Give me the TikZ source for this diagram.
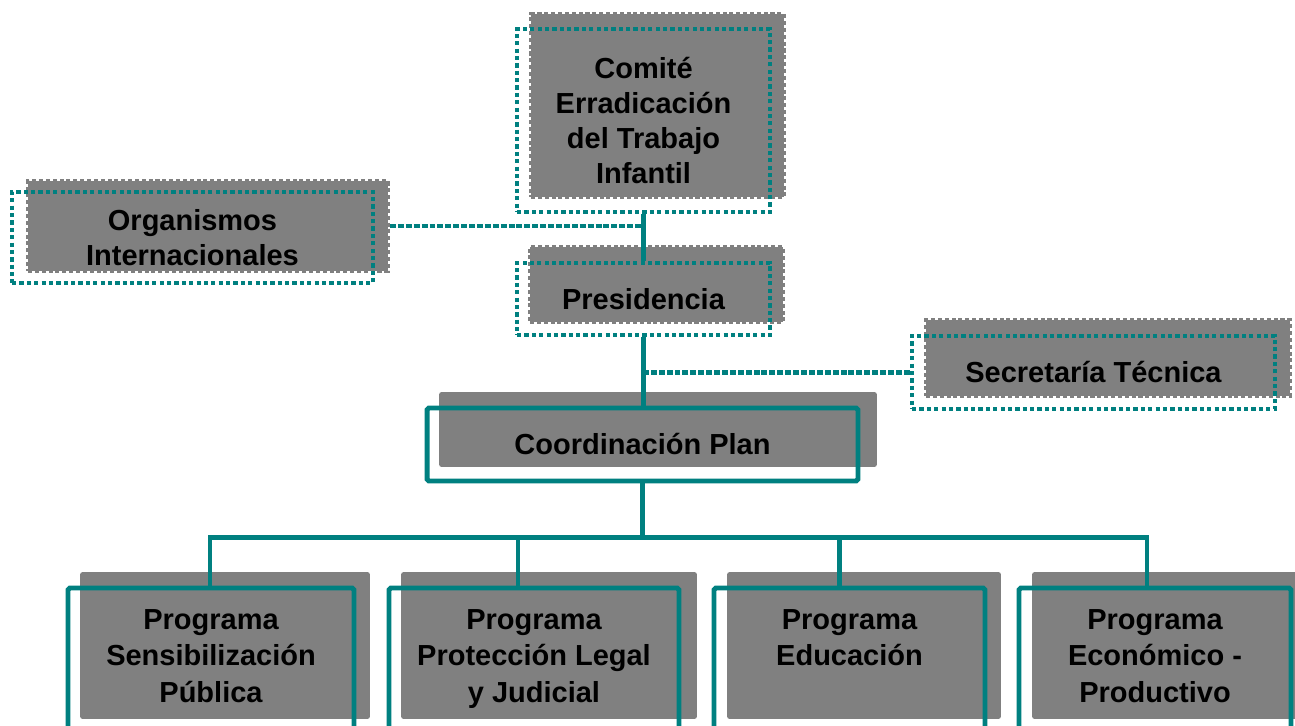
\documentclass[tikz,border=0pt]{standalone}
\usepackage{fontspec}
\setmainfont{Liberation Sans}
\usepackage{tikz}
\usetikzlibrary{calc}
\definecolor{verde}{RGB}{0,128,128}
\definecolor{gris}{RGB}{128,128,128}
\tikzset{
	fondo/.style={fill=gris, draw=gris, line width=2.3pt, dash pattern=on 2.3pt off 1.6pt, inner sep=0pt},
	fondoliso/.style={fill=gris, rounded corners=1.5pt, inner sep=0pt},
	punteado/.style={draw=verde, line width=2.6pt, dash pattern=on 2.4pt off 1.8pt, inner sep=0pt, align=center, font=\fontsize{16.5}{20}\selectfont\bfseries},
	marco/.style={draw=verde, line width=2.8pt, rounded corners=1pt, inner sep=0pt, align=center, font=\fontsize{16.5}{20}\selectfont\bfseries},
	linea/.style={draw=verde, line width=2.8pt},
	conexion/.style={draw=verde, line width=2.5pt, dash pattern=on 3.4pt off 1.1pt},
	progtexto/.style={anchor=north, inner sep=0pt, yshift=-0.47cm, align=center, font=\fontsize{16.5}{20.8}\selectfont\bfseries}
}

\begin{document}
\begin{tikzpicture}[x=0.02cm, y=-0.02cm]
		\useasboundingbox (0,0) rectangle (1295,726);
		\clip (0,0) rectangle (1295,726);
		%Fondos
		\node [fondo, minimum width=5.06cm, minimum height=3.66cm] (comiteG) at (657.5,105.5) {};
		\node [fondo, minimum width=7.2cm, minimum height=1.8cm] (orgG) at (208,226) {};
		\node [fondo, minimum width=5.06cm, minimum height=1.5cm] (presidG) at (656.5,284.5) {};
		\node [fondo, minimum width=7.28cm, minimum height=1.52cm] (secreG) at (1108,358) {};
		\node [fondoliso, minimum width=8.76cm, minimum height=1.5cm] (coordG) at (658,429.5) {};
		\node [fondoliso, minimum width=5.8cm, minimum height=2.94cm] (progAG) at (225,645.5) {};
		\node [fondoliso, minimum width=5.92cm, minimum height=2.94cm] (progBG) at (549,645.5) {};
		\node [fondoliso, minimum width=5.48cm, minimum height=2.94cm] (progCG) at (864,645.5) {};
		\node [fondoliso, minimum width=5.52cm, minimum height=2.94cm] (progDG) at (1170,645.5) {};
		%Marcos
		\node [punteado, minimum width=5.06cm, minimum height=3.66cm] (comite) at (643.5,120.5) {Comité\\Erradicación\\del Trabajo\\Infantil};
		\node [punteado, minimum width=7.22cm, minimum height=1.82cm] (org) at (192.5,237.5) {Organismos\\Internacionales};
		\node [punteado, minimum width=5.06cm, minimum height=1.44cm] (presid) at (643.5,299) {Presidencia};
		\node [punteado, minimum width=7.26cm, minimum height=1.46cm] (secre) at (1093.5,372.5) {Secretaría Técnica};
		\node [marco, minimum width=8.62cm, minimum height=1.46cm] (coord) at (642.5,444.5) {Coordinación Plan};
		%Programas
		\node [marco, minimum width=5.72cm, minimum height=3.44cm, label={[progtexto]north:{Programa\\Sensibilización\\Pública}}] (progA) at (211,674) {};
		\node [marco, minimum width=5.8cm, minimum height=3.44cm, label={[progtexto]north:{Programa\\Protección Legal\\y Judicial}}] (progB) at (534,674) {};
		\node [marco, minimum width=5.42cm, minimum height=3.44cm, label={[progtexto]north:{Programa\\Educación}}] (progC) at (849.5,674) {};
		\node [marco, minimum width=5.44cm, minimum height=3.44cm, label={[progtexto]north:{Programa\\Económico -\\Productivo}}] (progD) at (1155,674) {};
		%Lineas
		\draw [linea] (comite.south) -- (presid.north);
		\draw [linea] (presid.south) -- (presid.south |- coord.north);
		\draw [conexion] (orgG.east) -- (orgG.east -| comite.south);
		\draw [conexion] (secre.west) -- (secre.west -| presid.south);
		\coordinate (bus) at ($(coord.south)+(0,54)$);
		\coordinate (bajaA) at ($(progA.north)+(-1,0)$);
		\coordinate (bajaB) at ($(progB.north)+(-16,0)$);
		\coordinate (bajaC) at ($(progC.north)+(-10,0)$);
		\coordinate (bajaD) at ($(progD.north)+(-8,0)$);
		\draw [linea] (coord.south) -- (bus);
		\draw [linea] (bajaA) |- (bajaD |- bus) -- (bajaD);
		\draw [linea] (bajaB) -- (bajaB |- bus);
		\draw [linea] (bajaC) -- (bajaC |- bus);
	\end{tikzpicture}
\end{document}
